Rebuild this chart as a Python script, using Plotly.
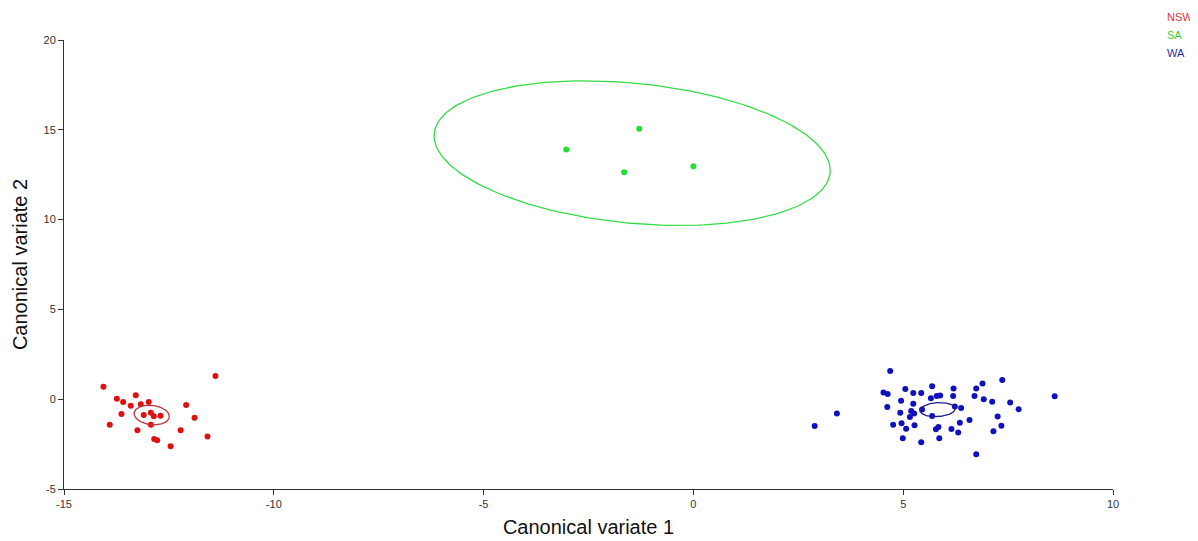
import numpy as np
import plotly.graph_objects as go

# ---- data ----
nsw_x = [-14.06, -11.39, -13.74, -13.59, -13.29, -13.41, -13.17, -12.98, -13.63, -13.10,
         -12.93, -12.86, -12.70, -12.93, -13.91, -13.25, -12.09, -11.89, -12.22, -11.58,
         -12.85, -12.78, -12.46]
nsw_y = [0.70, 1.29, 0.03, -0.16, 0.22, -0.36, -0.28, -0.16, -0.82, -0.88,
         -0.75, -0.95, -0.92, -1.42, -1.42, -1.73, -0.32, -1.03, -1.73, -2.07,
         -2.22, -2.29, -2.62]

sa_x = [-3.03, -1.29, -1.65, 0.00]
sa_y = [13.91, 15.06, 12.63, 12.97]

wa_x = [2.89, 3.42, 4.69, 4.53, 4.63, 5.05, 5.24, 5.43, 5.69, 6.20, 6.74, 6.89, 7.36, 8.61,
        4.95, 5.24, 5.66, 5.80, 5.88, 6.19, 6.70, 6.92, 7.12, 7.55, 7.75, 4.62, 4.93, 5.19,
        5.26, 5.16, 5.45, 5.69, 6.23, 6.38, 6.58, 7.25, 7.34, 7.15, 6.35, 6.31, 6.15, 5.84,
        5.78, 5.86, 5.43, 4.99, 4.76, 4.96, 5.07, 5.27, 6.74]
wa_y = [-1.49, -0.79, 1.57, 0.38, 0.29, 0.57, 0.35, 0.35, 0.72, 0.59, 0.59, 0.88, 1.07, 0.16,
        -0.08, -0.25, 0.05, 0.18, 0.20, 0.18, 0.18, 0.00, -0.14, -0.19, -0.56, -0.43, -0.75, -0.66,
        -0.79, -0.99, -0.57, -0.94, -0.40, -0.49, -1.16, -0.97, -1.48, -1.79, -1.31, -1.86, -1.66, -1.55,
        -1.68, -2.18, -2.40, -2.18, -1.42, -1.34, -1.64, -1.45, -3.07]

groups = ["NSW", "SA", "WA"]
# ellipse parameters: centre (x, y), conjugate half-axis u (ux, uy), vertical half-axis v
ell_cx = [-12.91, -1.46, 5.82]
ell_cy = [-0.88, 13.70, -0.58]
ell_ux = [0.42, 4.72, 0.42]
ell_uy = [-0.08, -0.96, 0.05]
ell_v = [0.54, 3.91, 0.39]

x_ticks = [-15, -10, -5, 0, 5, 10]
y_ticks = [-5, 0, 5, 10, 15, 20]

point_colors = ["#e01010", "#22dd33", "#1010c0"]
ellipse_colors = ["#c0303a", "#33dd44", "#202090"]
legend_colors = ["#e03535", "#3ccf3c", "#2b2ba0"]

FONT = "Liberation Sans, Arial, sans-serif"

fig = go.Figure()
xs = [nsw_x, sa_x, wa_x]
ys = [nsw_y, sa_y, wa_y]
t = np.linspace(0, 2 * np.pi, 200)
for i, g in enumerate(groups):
    fig.add_trace(go.Scatter(x=xs[i], y=ys[i], mode="markers", name=g,
                             marker=dict(color=point_colors[i], size=6),
                             showlegend=False))
    ex = ell_cx[i] + ell_ux[i] * np.cos(t)
    ey = ell_cy[i] + ell_uy[i] * np.cos(t) + ell_v[i] * np.sin(t)
    fig.add_trace(go.Scatter(x=ex, y=ey, mode="lines", name=g + " ellipse",
                             line=dict(color=ellipse_colors[i], width=1.3),
                             showlegend=False, hoverinfo="skip"))

legend_y = [1.0512, 1.0111, 0.9710]
for i, g in enumerate(groups):
    fig.add_annotation(text=g, xref="paper", yref="paper", x=1.0496, y=legend_y[i],
                       xanchor="left", yanchor="middle", showarrow=False,
                       font=dict(family=FONT, size=11, color=legend_colors[i]))

axis_common = dict(showgrid=False, zeroline=False, showline=True, linecolor="#333333",
                   linewidth=1, ticks="outside", ticklen=5, tickcolor="#333333",
                   automargin=False,
                   tickfont=dict(family=FONT, size=11, color="#333333"))

# the page body adds an 8px offset, so the figure is 8px smaller on each side
fig.update_layout(
    width=1190, height=533,
    margin=dict(l=56, r=85, t=32, b=52),
    paper_bgcolor="white", plot_bgcolor="white",
    showlegend=False,
    xaxis=dict(range=[-15, 10], tickvals=x_ticks, ticktext=[str(v) for v in x_ticks],
               title=dict(text="Canonical variate 1", font=dict(family=FONT, size=20, color="#111111"),
                          standoff=10),
               **axis_common),
    yaxis=dict(range=[-5, 20], tickvals=y_ticks, ticktext=[str(v) for v in y_ticks],
               title=dict(text="Canonical variate 2", font=dict(family=FONT, size=20, color="#111111"),
                          standoff=10),
               **axis_common),
)

fig.write_html("out.html")
